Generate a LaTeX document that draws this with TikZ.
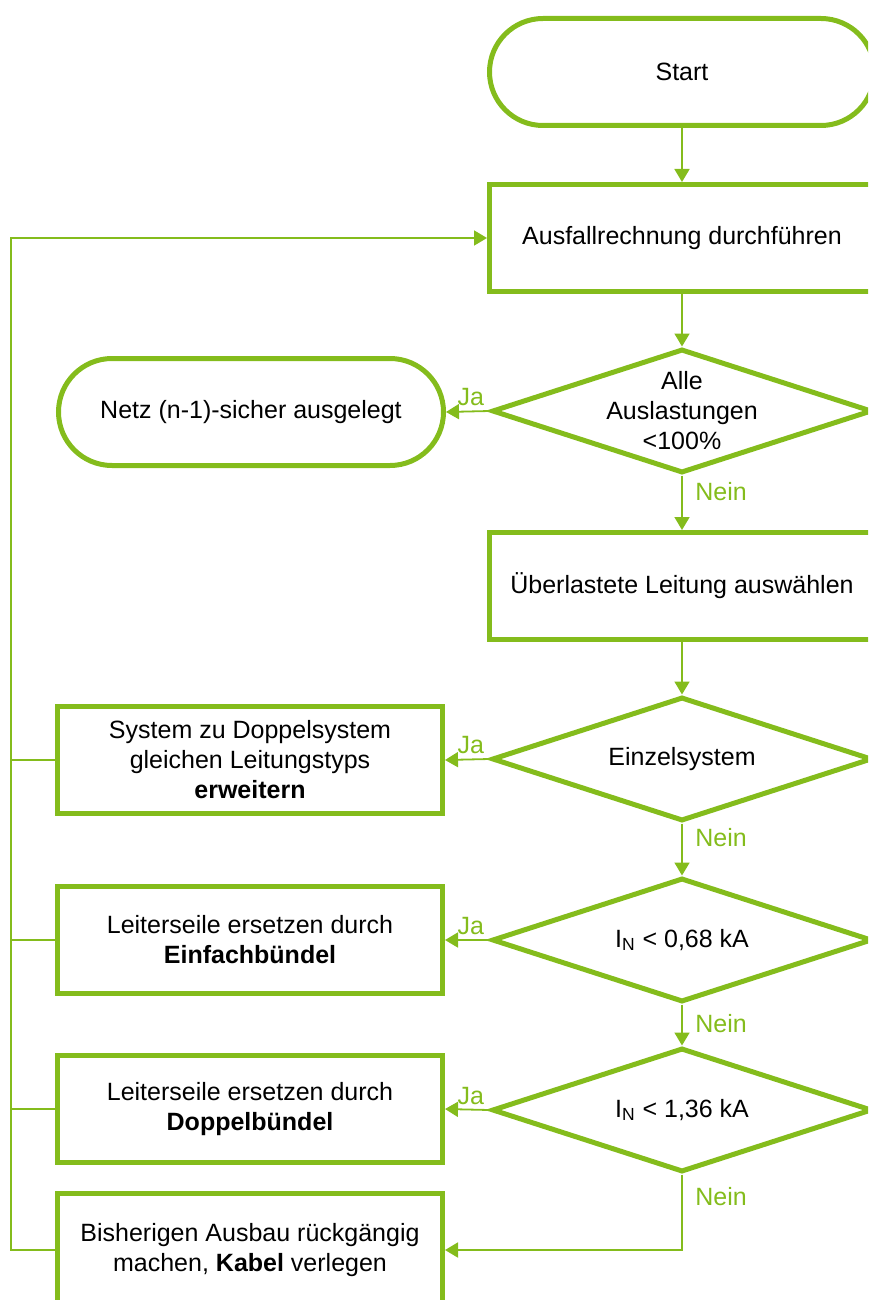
\documentclass[tikz,border=0pt]{standalone}
\usepackage{fontspec}
\setmainfont{Liberation Sans}
\usepackage{xcolor}
\usepackage{tikz}
\usetikzlibrary{shapes,arrows.meta,positioning,calc}

\definecolor{flowgreen}{RGB}{132,188,28}

\tikzset{
    base/.style={draw=flowgreen, line width=2.5pt, align=center, text=black,
        font=\fontsize{12.5}{15}\selectfont},
    terminal/.style={base, rectangle, rounded corners=26.75pt, minimum width=192.5pt, minimum height=53.5pt},
    process/.style={base, rectangle, minimum width=192.5pt, minimum height=53.5pt},
    decision/.style={base, diamond, minimum width=190pt, minimum height=62pt, inner sep=0pt},
    qtext/.style={align=center, text=black, font=\fontsize{12.5}{15}\selectfont},
    flow/.style={draw=flowgreen, line width=0.9pt, -{Triangle[length=6.5pt,width=7.5pt]}},
    link/.style={draw=flowgreen, line width=0.9pt},
    answer/.style={text=flowgreen, font=\fontsize{12.5}{15}\selectfont, inner sep=2.5pt}
}

\begin{document}
\begin{tikzpicture}[x=0.5pt, y=-0.5pt]
    \clip (0,0) rectangle (868,1300);

    % Main column
    \node[terminal] (start) at (682,72) {Start};
    \node[process] (calc) at (682,238) {Ausfallrechnung durchführen};
    \node[decision, label={[qtext]center:{Alle\\Auslastungen\\<100\%}}] (check) at (682,411) {};
    \node[process] (overload) at (682,586) {Überlastete Leitung auswählen};
    \node[decision, label={[qtext]center:Einzelsystem}] (single) at (682,759) {};
    \node[decision, label={[qtext]center:{I\textsubscript{N} < 0,68 kA}}] (limitone) at (682,940) {};
    \node[decision, label={[qtext]center:{I\textsubscript{N} < 1,36 kA}}] (limittwo) at (682,1110) {};

    % Measures on the left
    \node[terminal] (secure) at (251,412) {Netz (n-1)-sicher ausgelegt};
    \node[process] (double) at (250,760) {System zu Doppelsystem\\gleichen Leitungstyps\\\textbf{erweitern}};
    \node[process] (bundleone) at (250,940) {Leiterseile ersetzen durch\\\textbf{Einfachbündel}};
    \node[process] (bundletwo) at (250,1109) {Leiterseile ersetzen durch\\\textbf{Doppelbündel}};
    \node[process, minimum height=57pt] (cable) at (250,1250) {Bisherigen Ausbau rückgängig\\machen, \textbf{Kabel} verlegen};

    % Flow down the main column
    \draw[flow] (start) -- (calc);
    \draw[flow] (calc) -- (check);
    \draw[flow] (check) -- (overload);
    \draw[flow] (overload) -- (single);
    \draw[flow] (single) -- (limitone);
    \draw[flow] (limitone) -- (limittwo);
    \draw[flow] (limittwo.south) |- (cable.east);

    % Yes branches
    \draw[flow] (check.west) -- (secure.east);
    \draw[flow] (single.west) -- (double.east);
    \draw[flow] (limitone.west) -- (bundleone.east);
    \draw[flow] (limittwo.west) -- (bundletwo.east);

    \node[answer, above left] (yesone) at (check.west) {Ja};
    \node[answer, above left] (yestwo) at (single.west) {Ja};
    \node[answer, above left] (yesthree) at (limitone.west) {Ja};
    \node[answer, above left] (yesfour) at (limittwo.west) {Ja};

    \node[answer, right] (noone) at (690,492) {Nein};
    \node[answer, right] (notwo) at (690,838) {Nein};
    \node[answer, right] (nothree) at (690,1024) {Nein};
    \node[answer, right] (nofour) at (690,1197) {Nein};

    % Loop back to the calculation
    \coordinate (looptop) at (11,238);
    \coordinate (loopbottom) at (11,1250);
    \draw[flow] (cable.west) -- (loopbottom) -- (looptop) -- (calc.west);
    \draw[link] (double.west) -- (double.west -| looptop);
    \draw[link] (bundleone.west) -- (bundleone.west -| looptop);
    \draw[link] (bundletwo.west) -- (bundletwo.west -| looptop);
\end{tikzpicture}
\end{document}
